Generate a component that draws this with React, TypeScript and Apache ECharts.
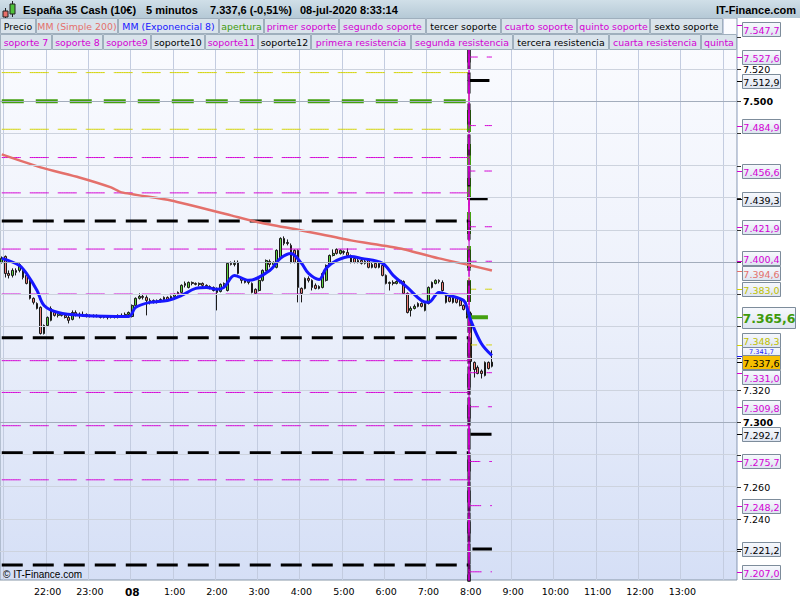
import React, { useEffect, useRef } from 'react';
import * as echarts from 'echarts';

// ---------- time slots (5-minute candles) ----------
const SLOT_START_MIN = 20 * 60 + 55;
const SLOT_COUNT = 209;
const SESSION_START_INDEX = 133; // 8:00 candle
const FIRST_LABEL_INDEX = 6; // labels too close to the edges are not drawn
const LAST_LABEL_INDEX = 200;
const timeSlots: string[] = Array.from({ length: SLOT_COUNT }, (_, i) => {
  const t = (SLOT_START_MIN + 5 * i) % 1440;
  return `${Math.floor(t / 60)}:${String(t % 60).padStart(2, '0')}`;
});

// ---------- price axis ----------
const priceTicks = [7220, 7240, 7260, 7280, 7300, 7320, 7340, 7360, 7380, 7400, 7420, 7440, 7460, 7480, 7500, 7520, 7540];
const Y_MIN = 7201.9;
const Y_MAX = 7551.9;

// ---------- candles [open, close, low, high] ----------
const ohlc: number[][] = [
  [7399.7, 7402.2, 7399.0, 7403.4], [7403.4, 7392.8, 7390.3, 7404.0], [7392.8, 7391.6, 7389.7, 7394.7], [7391.6, 7394.7, 7390.3, 7396.0],
  [7394.7, 7393.5, 7391.6, 7396.0], [7394.7, 7398.4, 7393.5, 7399.1], [7394.7, 7390.3, 7389.1, 7396.0], [7391.6, 7386.6, 7386.0, 7392.8],
  [7389.7, 7377.3, 7376.6, 7390.3], [7377.3, 7374.8, 7373.5, 7377.9], [7374.1, 7371.0, 7370.4, 7374.8], [7371.7, 7355.4, 7354.8, 7372.3],
  [7355.4, 7360.4, 7354.8, 7361.0], [7360.4, 7365.4, 7359.8, 7366.0], [7363.6, 7371.0, 7363.0, 7372.3], [7368.5, 7366.7, 7366.0, 7369.8],
  [7366.7, 7367.9, 7365.4, 7369.1], [7367.9, 7366.7, 7366.0, 7368.5], [7366.7, 7365.4, 7364.8, 7367.3], [7365.4, 7363.6, 7361.7, 7366.7],
  [7364.2, 7368.5, 7363.6, 7369.8], [7368.5, 7367.3, 7366.0, 7369.8], [7367.3, 7366.7, 7364.8, 7368.5], [7366.7, 7367.3, 7366.0, 7369.1],
  [7367.3, 7366.7, 7365.4, 7367.9], [7366.7, 7366.0, 7365.4, 7367.3], [7366.0, 7366.7, 7365.4, 7367.3], [7366.7, 7366.0, 7365.4, 7367.3],
  [7366.0, 7365.4, 7364.8, 7366.7], [7365.4, 7366.0, 7364.8, 7366.7], [7366.0, 7365.4, 7364.2, 7366.7], [7365.4, 7366.0, 7364.8, 7366.7],
  [7366.0, 7365.4, 7364.8, 7366.7], [7365.4, 7366.7, 7364.8, 7367.3], [7366.7, 7366.0, 7365.4, 7367.9], [7366.0, 7367.3, 7365.4, 7368.5],
  [7367.3, 7368.5, 7366.7, 7369.1], [7366.0, 7372.9, 7365.4, 7373.5], [7372.9, 7377.3, 7372.3, 7377.9], [7377.3, 7378.5, 7376.6, 7380.4],
  [7378.5, 7377.9, 7376.6, 7379.7], [7377.9, 7376.0, 7366.7, 7379.1], [7376.0, 7374.8, 7373.5, 7377.3], [7374.8, 7376.0, 7374.1, 7376.6],
  [7376.0, 7375.4, 7374.1, 7376.6], [7375.4, 7376.6, 7374.8, 7377.3], [7376.6, 7377.9, 7376.0, 7378.5], [7377.9, 7376.6, 7376.0, 7378.5],
  [7376.6, 7378.5, 7376.0, 7379.1], [7378.5, 7379.7, 7377.9, 7380.4], [7379.7, 7381.0, 7379.1, 7381.6], [7381.0, 7385.4, 7380.4, 7386.0],
  [7385.4, 7386.6, 7384.1, 7387.8], [7384.1, 7387.2, 7383.5, 7387.8], [7387.2, 7386.6, 7385.4, 7387.8], [7386.6, 7386.0, 7385.4, 7387.2],
  [7386.0, 7386.6, 7384.7, 7387.2], [7386.6, 7385.4, 7384.1, 7387.2], [7385.4, 7384.7, 7383.5, 7386.0], [7384.7, 7384.1, 7382.9, 7385.4],
  [7384.1, 7382.2, 7381.6, 7384.7], [7383.5, 7381.0, 7369.8, 7384.1], [7381.6, 7386.0, 7381.0, 7386.6], [7386.0, 7386.6, 7384.7, 7387.2],
  [7382.2, 7399.1, 7381.6, 7399.7], [7399.1, 7398.4, 7397.8, 7400.3], [7398.4, 7399.1, 7397.2, 7400.9], [7399.7, 7392.8, 7392.2, 7400.9],
  [7389.7, 7388.5, 7386.6, 7390.3], [7388.5, 7387.2, 7386.6, 7389.7], [7387.2, 7388.5, 7386.0, 7389.1], [7386.6, 7381.0, 7380.4, 7387.2],
  [7382.9, 7380.4, 7379.7, 7383.5], [7382.2, 7388.5, 7381.6, 7389.1], [7388.5, 7394.7, 7387.8, 7395.3], [7394.7, 7400.9, 7394.1, 7401.5],
  [7400.3, 7398.4, 7396.6, 7401.5], [7398.4, 7399.7, 7397.2, 7400.3], [7396.6, 7407.2, 7396.0, 7407.8], [7402.2, 7414.6, 7401.5, 7415.3],
  [7414.6, 7411.5, 7410.3, 7415.9], [7411.5, 7412.1, 7410.3, 7414.0], [7410.3, 7399.7, 7399.1, 7411.5], [7407.2, 7399.7, 7399.1, 7407.8],
  [7407.2, 7384.1, 7374.8, 7407.8], [7383.5, 7380.4, 7374.8, 7384.1], [7383.5, 7389.7, 7382.9, 7390.3], [7389.7, 7388.5, 7387.2, 7391.0],
  [7388.5, 7384.1, 7382.2, 7389.1], [7385.4, 7383.5, 7382.9, 7386.6], [7383.5, 7384.7, 7382.9, 7385.4], [7384.1, 7392.8, 7383.5, 7393.5],
  [7388.5, 7397.8, 7387.8, 7398.4], [7397.8, 7404.0, 7397.2, 7404.6], [7404.0, 7405.3, 7403.4, 7407.8], [7407.8, 7405.3, 7404.6, 7408.4],
  [7405.3, 7407.2, 7404.6, 7407.8], [7406.5, 7405.9, 7404.6, 7407.2], [7405.9, 7404.0, 7403.4, 7408.4], [7404.0, 7399.7, 7399.1, 7404.6],
  [7402.2, 7399.7, 7399.1, 7403.4], [7399.7, 7400.9, 7399.1, 7402.2], [7400.9, 7399.1, 7398.4, 7402.2], [7399.1, 7400.3, 7398.4, 7401.5],
  [7400.9, 7396.6, 7396.0, 7401.5], [7396.6, 7398.4, 7396.0, 7399.7], [7399.1, 7396.6, 7396.0, 7399.7], [7396.6, 7399.1, 7396.0, 7399.7],
  [7397.8, 7391.6, 7391.0, 7398.4], [7391.6, 7386.6, 7386.0, 7392.2], [7386.6, 7387.2, 7382.2, 7387.8], [7387.2, 7386.6, 7385.4, 7388.5],
  [7386.6, 7387.8, 7386.0, 7388.5], [7387.8, 7388.5, 7386.6, 7389.1], [7387.8, 7380.4, 7379.7, 7388.5], [7380.4, 7368.5, 7367.9, 7381.0],
  [7369.8, 7371.0, 7366.0, 7372.3], [7371.0, 7372.3, 7370.4, 7373.5], [7374.1, 7372.3, 7371.7, 7374.8], [7374.1, 7372.3, 7371.7, 7374.8],
  [7369.8, 7374.1, 7369.2, 7374.8], [7374.1, 7384.1, 7373.5, 7384.7], [7384.1, 7387.2, 7383.5, 7387.8], [7386.6, 7388.5, 7386.0, 7389.1],
  [7388.5, 7387.8, 7386.6, 7389.1], [7387.2, 7382.2, 7381.6, 7388.5], [7379.1, 7374.8, 7374.1, 7379.7], [7377.9, 7375.4, 7374.8, 7378.5],
  [7374.8, 7377.9, 7374.1, 7378.5], [7377.3, 7374.8, 7374.1, 7377.9], [7376.0, 7372.9, 7372.3, 7376.6], [7372.9, 7370.4, 7369.8, 7373.5],
  [7370.4, 7366.7, 7364.8, 7371.0], [7368.0, 7338.0, 7332.0, 7369.0], [7337.4, 7333.0, 7328.0, 7338.0], [7334.3, 7330.5, 7330.0, 7335.5],
  [7332.0, 7330.5, 7327.4, 7333.0], [7329.3, 7337.4, 7328.7, 7338.0], [7337.4, 7333.6, 7333.0, 7338.0], [7335.0, 7337.6, 7334.3, 7344.9],
];

// ---------- moving averages (slot index, value) ----------
const smaIndex = [0, 11, 22, 31, 34, 48, 65, 73, 85, 99, 113, 124, 133, 139];
const smaValue = [7467.0, 7458.9, 7452.6, 7446.4, 7443.3, 7438.3, 7429.0, 7424.6, 7419.6, 7413.4, 7408.4, 7402.2, 7397.8, 7394.6];
const emaIndex = [0, 5, 7, 10, 12, 16, 23, 36, 38, 42, 47, 51, 55, 58, 61, 63, 66, 70, 76, 79, 82, 85, 87, 90, 92, 95, 99, 102, 108, 111, 115, 119, 121, 124, 127, 131, 132, 133, 136, 139];
const emaValue = [7402.2, 7397.8, 7392.8, 7382.2, 7372.9, 7368.5, 7366.7, 7366.0, 7371.7, 7374.8, 7376.0, 7379.1, 7383.5, 7384.1, 7382.9, 7384.1, 7391.6, 7388.5, 7394.7, 7402.2, 7405.3, 7399.1, 7392.8, 7389.1, 7396.0, 7400.9, 7403.4, 7402.2, 7399.1, 7391.6, 7384.1, 7376.0, 7374.8, 7381.0, 7379.1, 7376.0, 7371.0, 7363.6, 7349.2, 7341.7];

// ---------- daily levels: previous session / current session ----------
const levelNames = ['canal superior', 'canal inferior', 'apertura',
  'tercer soporte', 'sexto soporte', 'soporte10', 'soporte12', 'tercera resistencia', 'sexta resistencia',
  'primer soporte', 'segundo soporte', 'cuarto soporte', 'quinto soporte', 'soporte 7', 'soporte 8', 'soporte9', 'soporte11',
  'primera resistencia', 'segunda resistencia', 'cuarta resistencia', 'quinta resistencia', 'resistencia 7', 'resistencia 8'];
const levelKinds = ['y', 'y', 'g', 'k', 'k', 'k', 'k', 'k', 'k', 'm', 'm', 'm', 'm', 'm', 'm', 'm', 'm', 'm', 'm', 'm', 'm', 'm', 'm'];
const prevLevels = [7517.9, 7482.6, 7500.0, 7425.5, 7352.8, 7281.1, 7211.3, 7574.5, 7647.0,
  7465.0, 7443.0, 7408.0, 7380.0, 7338.5, 7318.7, 7298.0, 7264.3, 7535.0, 7557.0, 7592.0, 7620.0, 7661.5, 7685.5];
const currLevels = [7383.0, 7348.3, 7365.6, 7292.7, 7221.2, 7150.6, 7081.6, 7439.3, 7512.9,
  7331.0, 7309.8, 7275.7, 7248.2, 7207.0, 7187.6, 7167.6, 7133.6, 7400.4, 7421.9, 7456.6, 7484.9, 7527.6, 7547.7];

// ---------- texts ----------
const instrument = 'España 35 Cash (10€)';
const timeframe = '5 minutos';
const quote = '7.337,6 (-0,51%)';
const stamp = '08-jul-2020 8:33:14';
const brand = 'IT-Finance.com';
const copyright = '© IT-Finance.com';
const legendRow1 = ['Precio', 'MM (Simple 200)', 'MM (Exponencial 8)', 'apertura', 'primer soporte', 'segundo soporte', 'tercer soporte', 'cuarto soporte', 'quinto soporte', 'sexto soporte'];
const legendRow1Kinds = ['p', 's', 'e', 'g', 'm', 'm', 'k', 'm', 'm', 'k'];
const legendRow2 = ['soporte 7', 'soporte 8', 'soporte9', 'soporte10', 'soporte11', 'soporte12', 'primera resistencia', 'segunda resistencia', 'tercera resistencia', 'cuarta resistencia', 'quinta resistencia'];
const legendRow2Kinds = ['m', 'm', 'm', 'k', 'm', 'k', 'm', 'm', 'k', 'm', 'm'];

// ---------- styles ----------
const MAG = '#d400d4';
const GRN = '#44a010';
const YEL = '#d2d200';
const YEL_TXT = '#bfbf00';
const SMA_C = '#e4706b';
const EMA_C = '#1717ff';
const kindStyle: Record<string, { color: string; width: number; dash: number[]; text: string }> = {
  y: { color: YEL, width: 1, dash: [19, 9], text: YEL_TXT },
  g: { color: GRN, width: 4, dash: [22, 12], text: '#3f9a0c' },
  k: { color: '#000', width: 3, dash: [21, 10], text: '#000' },
  m: { color: MAG, width: 1, dash: [19, 9], text: MAG },
  p: { color: '#000', width: 1, dash: [], text: '#000' },
  s: { color: SMA_C, width: 2, dash: [], text: SMA_C },
  e: { color: EMA_C, width: 2, dash: [], text: EMA_C },
};
const row1Edges = [0, 36, 118, 219, 264, 339, 426, 501, 577, 650, 723];
const row2Edges = [0, 52, 103, 151, 205, 258, 311, 411, 513, 609, 701, 760];
const PLOT_RIGHT = 737;
const FONT_DV = '"DejaVu Sans"';
const FONT_AR = '"Liberation Sans", Arial';

const fmtPrice = (v: number, dec: number) => {
  const s = v.toFixed(dec);
  const [ip, dp] = s.split('.');
  const grouped = ip.length > 3 ? ip.slice(0, -3) + '.' + ip.slice(-3) : ip;
  return dp ? `${grouped},${dp}` : grouped;
};

const sparse = (idx: number[], val: number[]) => {
  const arr: (number | null)[] = Array(ohlc.length).fill(null);
  idx.forEach((i, k) => { arr[i] = val[k]; });
  return arr;
};

function buildOption(): any {
  const isHour = (_: number, v: string) => v.endsWith(':00');
  const isHourLabel = (i: number, v: string) => v.endsWith(':00') && i >= FIRST_LABEL_INDEX && i <= LAST_LABEL_INDEX;
  const series: any[] = [];
  // horizontal grid lines
  series.push({
    type: 'line', data: Array(ohlc.length).fill(null), silent: true, showSymbol: false,
    markLine: {
      silent: true, symbol: 'none', label: { show: false }, animation: false,
      data: priceTicks.map((v) => ({ yAxis: v, lineStyle: { color: v % 100 === 0 ? '#a3adbc' : '#cdd3de', width: 1, type: 'solid' } })),
    },
  });
  ['y', 'g', 'k', 'm'].forEach((kind) => {
    levelNames.forEach((name, li) => {
      if (levelKinds[li] !== kind) return;
      const st = kindStyle[kind];
      series.push({
        name, type: 'line', step: 'middle', showSymbol: false, silent: true,
        data: ohlc.map((_, i) => (i < SESSION_START_INDEX ? prevLevels[li] : currLevels[li])),
        lineStyle: { color: st.color, width: st.width, type: st.dash },
      });
    });
  });
  series.push({
    name: 'MM (Simple 200)', type: 'line', data: sparse(smaIndex, smaValue), connectNulls: true, showSymbol: false, smooth: 0.2,
    lineStyle: { color: SMA_C, width: 2.5 },
  });
  series.push({
    name: 'Precio', type: 'candlestick', data: ohlc, barWidth: 2.2,
    itemStyle: { color: '#5cd03c', color0: '#f07f78', borderColor: '#1a1a1a', borderColor0: '#1a1a1a', borderWidth: 1 },
  });
  series.push({
    name: 'MM (Exponencial 8)', type: 'line', data: sparse(emaIndex, emaValue), connectNulls: true, showSymbol: false, smooth: 0.35,
    lineStyle: { color: EMA_C, width: 3 },
  });
  return {
    animation: false,
    backgroundColor: '#ffffff',
    grid: {
      left: 0, top: 18, width: PLOT_RIGHT, height: 562, show: true, containLabel: false, outerBoundsMode: 'none',
      backgroundColor: { type: 'linear', x: 0, y: 0, x2: 0, y2: 1, colorStops: [{ offset: 0, color: '#fbfcff' }, { offset: 0.5, color: '#edf1fb' }, { offset: 1, color: '#d5dff6' }] },
      borderColor: '#8797a8', borderWidth: 1,
    },
    xAxis: {
      type: 'category', data: timeSlots, boundaryGap: true,
      axisLine: { show: false }, axisTick: { show: false },
      axisLabel: {
        interval: isHourLabel, color: '#000', fontFamily: FONT_DV, fontSize: 9.5, margin: 6, hideOverlap: false,
        formatter: (v: string) => (v === '0:00' ? '{b|08}' : v),
        rich: { b: { fontWeight: 'bold', fontFamily: FONT_DV, fontSize: 10.5, color: '#000' } },
      },
      splitLine: { show: true, interval: isHour, lineStyle: { color: '#c3cce0', width: 1 } },
    },
    yAxis: { type: 'value', min: Y_MIN, max: Y_MAX, show: false, splitLine: { show: false } },
    series,
  };
}

function buildGraphics(yPix: (v: number) => number): any[] {
  const els: any[] = [];
  let z = 100;
  const add = (e: any) => { e.z = z++; els.push(e); };
  // header
  add({ type: 'rect', shape: { x: 0, y: 0, width: 800, height: 18 }, style: { fill: { type: 'linear', x: 0, y: 0, x2: 0, y2: 1, colorStops: [{ offset: 0, color: '#d0dfe8' }, { offset: 1, color: '#b5c9d6' }] } } });
  // candle icon
  add({ type: 'line', shape: { x1: 5.5, y1: 8, x2: 5.5, y2: 18 }, style: { stroke: '#222', lineWidth: 1 } });
  add({ type: 'rect', shape: { x: 3, y: 11, width: 5, height: 6 }, style: { fill: '#e8706a', stroke: '#222', lineWidth: 1 } });
  add({ type: 'line', shape: { x1: 12.5, y1: 1, x2: 12.5, y2: 17 }, style: { stroke: '#222', lineWidth: 1 } });
  add({ type: 'rect', shape: { x: 10, y: 4, width: 5, height: 10 }, style: { fill: '#4fc23a', stroke: '#222', lineWidth: 1 } });
  const hdrFont = `bold 11px ${FONT_AR}`;
  [[instrument, 23], [timeframe, 146], [quote, 210], [stamp, 300]].forEach(([t, x]) => {
    add({ type: 'text', style: { text: t, x, y: 9.5, font: hdrFont, fill: '#000', textVerticalAlign: 'middle' } });
  });
  add({ type: 'text', style: { text: brand, x: 796, y: 9.5, font: hdrFont, fill: '#000', textAlign: 'right', textVerticalAlign: 'middle' } });
  // legend rows
  const legendFont = `9.4px ${FONT_DV}`;
  const drawRow = (names: string[], kinds: string[], edges: number[], y: number) => {
    names.forEach((name, i) => {
      const x0 = edges[i];
      const x1 = Math.min(edges[i + 1], PLOT_RIGHT);
      const w = x1 - x0;
      add({ type: 'rect', shape: { x: x0 + 0.5, y: y + 0.5, width: w - 1, height: 15 }, style: { fill: '#d9e3eb', stroke: '#9fafbd', lineWidth: 1 } });
      const clipped = edges[i + 1] > PLOT_RIGHT;
      add({
        type: 'text',
        style: {
          text: name, x: clipped ? x0 + 3 : (x0 + edges[i + 1]) / 2, y: y + 8.5, font: legendFont, fill: kindStyle[kinds[i]].text,
          textAlign: clipped ? 'left' : 'center', textVerticalAlign: 'middle',
          ...(clipped ? { width: w - 4, overflow: 'truncate', ellipsis: '' } : {}),
        },
      });
    });
  };
  drawRow(legendRow1, legendRow1Kinds, row1Edges, 18);
  drawRow(legendRow2, legendRow2Kinds, row2Edges, 34);
  // copyright
  add({ type: 'text', style: { text: copyright, x: 3, y: 574, font: `10px ${FONT_AR}`, fill: '#000', textVerticalAlign: 'middle' } });

  // level boxes with collision avoidance
  type Box = { v: number; y: number; h: number; w: number; color: string; fill: any; font: string; fixed: boolean; tick: string; textDy?: number; pseudo?: boolean };
  const boxFill = { type: 'linear', x: 0, y: 0, x2: 0, y2: 1, colorStops: [{ offset: 0, color: '#f7f9fd' }, { offset: 1, color: '#dde4f0' }] };
  const boxes: Box[] = [];
  currLevels.forEach((v, li) => {
    if (v < Y_MIN || v > Y_MAX) return;
    const st = kindStyle[levelKinds[li]];
    const big = levelKinds[li] === 'g';
    boxes.push({ v, y: yPix(v), h: big ? 21 : 14, w: big ? 53 : 38, color: st.text, fill: boxFill, font: big ? `bold 12.5px ${FONT_DV}` : `9.5px ${FONT_DV}`, fixed: false, tick: st.color });
  });
  const smaLast = smaValue[smaValue.length - 1];
  boxes.push({ v: smaLast, y: yPix(smaLast), h: 14, w: 38, color: SMA_C, fill: boxFill, font: `9.5px ${FONT_DV}`, fixed: false, tick: SMA_C });
  const lastClose = ohlc[ohlc.length - 1][1];
  const priceBox: Box = { v: lastClose, y: yPix(lastClose), h: 14, w: 38, color: '#000', fill: '#f6bf00', font: `9.5px ${FONT_DV}`, fixed: true, tick: '#000' };
  boxes.push(priceBox);
  // the EMA box sits mostly behind the price box: only its upper strip shows, so its text is small and high
  const emaLast = emaValue[emaValue.length - 1];
  const emaBox: Box = { v: emaLast, y: yPix(emaLast) - 1.5, h: 14, w: 38, color: EMA_C, fill: boxFill, font: `6.5px ${FONT_DV}`, fixed: false, tick: EMA_C, textDy: -3.3 };
  const emaTop = Math.round(emaBox.y - emaBox.h / 2) + 0.5;
  const emaStrip: Box = { ...emaBox, y: emaTop + 2, h: 4, fixed: true, pseudo: true };
  boxes.push(emaStrip);
  boxes.forEach((b) => { b.y = Math.max(b.y, 29); });
  for (let it = 0; it < 30; it++) {
    boxes.sort((a, b) => a.y - b.y);
    for (let k = 0; k < boxes.length - 1; k++) {
      const a = boxes[k], b = boxes[k + 1];
      if (a.fixed && b.fixed) continue;
      const minGap = (a.h + b.h) / 2 + 1;
      const gap = b.y - a.y;
      if (gap < minGap) {
        const d = minGap - gap;
        if (a.fixed) b.y += d;
        else if (b.fixed) a.y -= d;
        else { a.y -= d / 2; b.y += d / 2; }
      }
    }
  }
  const realBoxes = boxes.filter((b) => !b.pseudo);

  // price axis ticks + labels (labels whose centre lies under a box are hidden by it)
  priceTicks.forEach((v) => {
    const y = Math.round(yPix(v)) + 0.5;
    add({ type: 'line', shape: { x1: PLOT_RIGHT, y1: y, x2: PLOT_RIGHT + 4, y2: y }, style: { stroke: '#333', lineWidth: 1 } });
    const covered = realBoxes.concat([emaBox]).some((b) => Math.abs(b.y - y) < b.h / 2 + 2);
    if (covered) return;
    add({ type: 'text', style: { text: fmtPrice(v, 0), x: 743, y, font: `${v % 100 === 0 ? 'bold ' : ''}9.5px ${FONT_DV}`, fill: '#000', textVerticalAlign: 'middle' } });
  });

  const drawBox = (b: Box) => {
    const ty = Math.round(yPix(b.v)) + 0.5;
    add({ type: 'line', shape: { x1: PLOT_RIGHT, y1: ty, x2: PLOT_RIGHT + 5, y2: ty }, style: { stroke: b.tick, lineWidth: 1 } });
    const top = Math.round(b.y - b.h / 2) + 0.5;
    add({ type: 'rect', shape: { x: 742.5, y: top, width: b.w, height: b.h }, style: { fill: b.fill, stroke: '#7d8c9b', lineWidth: 1 } });
    add({ type: 'text', style: { text: fmtPrice(b.v, 1), x: 742.5 + b.w / 2, y: top + b.h / 2 + 0.5 + (b.textDy || 0), font: b.font, fill: b.color, textAlign: 'center', textVerticalAlign: 'middle' } });
  };
  realBoxes.filter((b) => b !== priceBox).forEach(drawBox);
  drawBox(emaBox);
  drawBox(priceBox);
  return els;
}

export default function App() {
  const ref = useRef<HTMLDivElement>(null);
  useEffect(() => {
    if (!ref.current) return;
    const chart = echarts.init(ref.current, null, { renderer: 'svg' });
    chart.setOption(buildOption());
    const yPix = (v: number) => chart.convertToPixel({ yAxisIndex: 0 }, v) as number;
    chart.setOption({ graphic: { elements: buildGraphics(yPix) } });
    return () => chart.dispose();
  }, []);
  return <div ref={ref} style={{ position: 'fixed', left: 0, top: 0, width: 800, height: 600 }} />;
}
